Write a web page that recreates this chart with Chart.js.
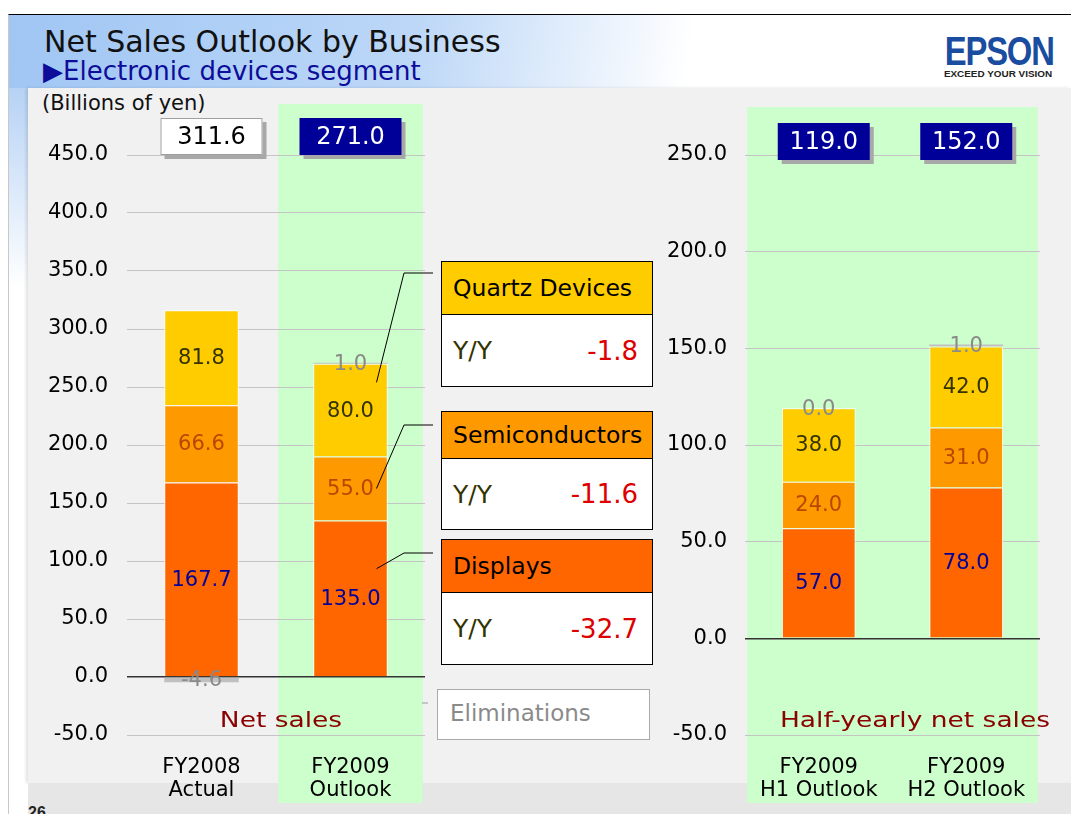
<!DOCTYPE html>
<html>
<head>
<meta charset="utf-8">
<script src="https://cdn.jsdelivr.net/npm/chart.js@4.4.1/dist/chart.umd.min.js"></script>
<style>
  body { margin: 0; width: 1071px; height: 814px; overflow: hidden; background: #fff; position: relative; font-family: "DejaVu Sans", sans-serif; }
  .abs { position: absolute; }
  #frame { left: 8px; top: 14px; width: 1063px; height: 800px; border-top: 1.5px solid #000; border-left: 1px solid #c8c8c8; box-sizing: border-box; }
  #header { left: 9px; top: 15px; width: 1062px; height: 73px; background: linear-gradient(100deg, #a0c6f4 0%, #bcd7f7 38%, #ffffff 64%); }
  #strip { left: 9px; top: 88px; width: 19px; height: 200px; background: linear-gradient(to bottom, #b6d2f5, #ffffff); }
  #panel { left: 28px; top: 88px; width: 1043px; height: 695px; background: #f1f1f1; box-shadow: -2px 0 3px rgba(0,0,0,0.12); }
  #foot { left: 28px; top: 783px; width: 1043px; height: 31px; background: #e6e6e6; }
  #title { left: 44px; top: 27px; font-size: 30px; line-height: 1; color: #111; white-space: nowrap; }
  #subtitle { left: 43px; top: 58px; font-size: 26px; line-height: 1; color: #0d0d99; white-space: nowrap; }
  #unit { left: 42px; top: 93px; font-size: 21px; line-height: 1; color: #111; white-space: nowrap; }
  #logo { left: 940px; top: 34px; width: 120px; text-align: center; }
  #logo .big { font-family: "Liberation Sans", sans-serif; font-weight: bold; font-size: 41px; line-height: 35px; color: #1a4c9f; transform: scaleX(0.8); letter-spacing: -1.5px; margin-left: -8px; }
  #logo .small { font-family: "Liberation Sans", sans-serif; font-weight: bold; font-size: 9px; line-height: 9px; color: #222; transform: scaleX(1.1); white-space: nowrap; margin-top: 1px; margin-left: -4px; }
  canvas { position: absolute; }
  .callout { position: absolute; left: 441px; width: 212px; border: 1.5px solid #000; background: #fff; box-sizing: border-box; z-index: 5; }
  .callout .head { border-bottom: 1.5px solid #000; font-size: 23.5px; padding-left: 11px; box-sizing: border-box; color: #000; display: flex; align-items: center; }
  .callout .body { position: relative; display: flex; align-items: center; justify-content: space-between; padding: 0 14px 0 11px; }
  .callout .yy { font-size: 25px; color: #333300; }
  .callout .val { font-size: 26px; color: #dd0000; }
  #elim { left: 437px; top: 689px; width: 213px; height: 51px; border: 1.5px solid #aaa; background: #fff; box-sizing: border-box; font-size: 23px; color: #8a8a8a; padding-left: 12px; line-height: 47px; z-index: 5; }
  .sect { font-size: 21px; color: #8b0000; line-height: 1; text-align: center; width: 300px; transform: scaleX(1.26); white-space: nowrap; z-index: 5; }
  #pageno { left: 28px; top: 804px; font-family: "Liberation Sans", sans-serif; font-weight: bold; font-size: 16px; color: #222; }
</style>
</head>
<body>
<div id="frame" class="abs"></div>
<div id="header" class="abs"></div>
<div id="strip" class="abs"></div>
<div id="panel" class="abs"></div>
<div id="foot" class="abs"></div>
<div id="title" class="abs">Net Sales Outlook by Business</div>
<div id="subtitle" class="abs">▶Electronic devices segment</div>
<div id="logo" class="abs"><div class="big">EPSON</div><div class="small">EXCEED YOUR VISION</div></div>
<div id="unit" class="abs">(Billions of yen)</div>
<div id="pageno" class="abs">26</div>

<canvas id="net" width="632" height="722" style="left:28px; top:88px;"></canvas>
<canvas id="half" width="411" height="722" style="left:660px; top:88px;"></canvas>

<div id="elim" class="abs">Eliminations</div>
<div class="abs sect" style="left:131px; top:710px;">Net sales</div>
<div class="abs sect" style="left:765px; top:710px;">Half-yearly net sales</div>

<script>
// full-year chart
const netLabels = [['FY2008', 'Actual'], ['FY2009', 'Outlook']];
const netDisplays = [167.7, 135.0];
const netSemis = [66.6, 55.0];
const netQuartz = [81.8, 80.0];
const netElim = [-4.6, 1.0];
const netTotals = [311.6, 271.0];

// half-year chart
const halfLabels = [['FY2009', 'H1 Outlook'], ['FY2009', 'H2 Outlook']];
const halfDisplays = [57.0, 78.0];
const halfSemis = [24.0, 31.0];
const halfQuartz = [38.0, 42.0];
const halfElim = [0.0, 1.0];
const halfTotals = [119.0, 152.0];

// Y/Y change boxes
const segmentNames = ['Quartz Devices', 'Semiconductors', 'Displays'];
const yoyChange = [-1.8, -11.6, -32.7];

const netTicks = { min: -50, max: 450, step: 50 };
const halfTicks = { min: -50, max: 250, step: 50 };

const calloutBoxes = [
  { top: 261, head: 53, body: 71, color: '#ffcc00' },
  { top: 411, head: 47, body: 70, color: '#ff9900' },
  { top: 539, head: 53, body: 71, color: '#ff6600' }
];
segmentNames.forEach(function (name, i) {
  const b = calloutBoxes[i];
  const div = document.createElement('div');
  div.className = 'callout';
  div.style.top = b.top + 'px';
  div.innerHTML = '<div class="head" style="height:' + b.head + 'px;background:' + b.color + '">' + name + '</div>' +
    '<div class="body" style="height:' + b.body + 'px"><span class="yy">Y/Y</span><span class="val">' + yoyChange[i].toFixed(1) + '</span></div>';
  document.body.appendChild(div);
});

const extras = {
  id: 'extras',
  beforeDraw(chart) {
    const o = chart.options.plugins.extras;
    const ctx = chart.ctx;
    const xs = chart.scales.x;
    const half = (xs.getPixelForValue(1) - xs.getPixelForValue(0)) * 0.485;
    const x0 = xs.getPixelForValue(o.band[0]) - half;
    const x1 = xs.getPixelForValue(o.band[1]) + half;
    ctx.save();
    ctx.fillStyle = '#ccffcc';
    ctx.fillRect(x0, o.bandTop, x1 - x0, 715 - o.bandTop);
    ctx.restore();
  },
  afterDatasetsDraw(chart) {
    const ctx = chart.ctx;
    ctx.save();
    ctx.font = '21px "DejaVu Sans"';
    ctx.textAlign = 'center';
    ctx.textBaseline = 'middle';
    chart.data.datasets.forEach(function (ds, i) {
      chart.getDatasetMeta(i).data.forEach(function (el, j) {
        ctx.fillStyle = ds.labelColor;
        ctx.fillText(ds.data[j].toFixed(1), el.x, (el.y + el.base) / 2 + 1);
      });
    });
    ctx.restore();
  },
  afterDraw(chart) {
    const o = chart.options.plugins.extras;
    const ctx = chart.ctx;
    const xs = chart.scales.x;
    const area = chart.chartArea;
    ctx.save();
    // leader lines from the outlook bar to the Y/Y boxes
    if (o.leaders) {
      ctx.strokeStyle = '#000';
      ctx.lineWidth = 1;
      o.leaders.forEach(function (l) {
        const el = chart.getDatasetMeta(l.ds).data[1];
        const sy = el.y + (el.base - el.y) * l.frac;
        ctx.beginPath();
        ctx.moveTo(el.x + 26, sy);
        ctx.lineTo(area.right - 21, l.endY);
        ctx.lineTo(area.right + 8, l.endY);
        ctx.stroke();
      });
      ctx.strokeStyle = '#999';
      ctx.beginPath();
      ctx.moveTo(area.right - 3, 615);
      ctx.lineTo(area.right + 3, 615);
      ctx.stroke();
    }
    // total boxes
    ctx.font = '24px "DejaVu Sans"';
    ctx.textAlign = 'center';
    ctx.textBaseline = 'middle';
    o.totals.forEach(function (t, j) {
      const cx = xs.getPixelForValue(j) + (j === 0 ? o.firstShift : 0);
      const w = o.boxW, h = 37;
      const top = area.top - o.boxRise;
      ctx.fillStyle = '#a8a8a8';
      ctx.fillRect(cx - w / 2 + 4, top + 4, w, h);
      const plain = o.plainFirst && j === 0;
      ctx.fillStyle = plain ? '#ffffff' : '#000099';
      ctx.fillRect(cx - w / 2, top, w, h);
      if (plain) {
        ctx.strokeStyle = '#a0a0a0';
        ctx.lineWidth = 1;
        ctx.strokeRect(cx - w / 2 + 0.5, top + 0.5, w - 1, h - 1);
      }
      ctx.fillStyle = plain ? '#000' : '#fff';
      ctx.fillText(t.toFixed(1), cx, top + h / 2 + 1);
    });
    ctx.restore();
  }
};

function makeDatasets(displays, semis, quartz, elim) {
  return [
    { label: 'Displays', data: displays, backgroundColor: '#ff6600', borderColor: '#ffffff', borderWidth: 1, labelColor: '#000099' },
    { label: 'Semiconductors', data: semis, backgroundColor: '#ff9900', borderColor: '#ffffff', borderWidth: 1, labelColor: '#b84800' },
    { label: 'Quartz Devices', data: quartz, backgroundColor: '#ffcc00', borderColor: '#ffffff', borderWidth: 1, labelColor: '#333300' },
    { label: 'Eliminations', data: elim, backgroundColor: '#c0c0c0', borderWidth: 0, labelColor: '#8a8a8a' }
  ];
}

function makeOptions(range, yWidth, yPad, padRight, extraOpts) {
  return {
    responsive: false,
    animation: false,
    layout: { padding: { top: 67, right: padRight, bottom: 0, left: 0 } },
    datasets: { bar: { categoryPercentage: 1.0, barPercentage: 0.5 } },
    plugins: { legend: { display: false }, tooltip: { enabled: false }, extras: extraOpts },
    scales: {
      x: {
        stacked: true,
        grid: { display: false, drawTicks: false },
        border: { display: false },
        ticks: { color: '#000', font: { family: 'DejaVu Sans', size: 21, lineHeight: 1.05 }, padding: 22, maxRotation: 0 },
        afterFit: function (s) { s.height = 75; }
      },
      y: {
        stacked: true,
        min: range.min,
        max: range.max,
        ticks: {
          stepSize: range.step,
          color: '#000',
          font: { family: 'DejaVu Sans', size: 21 },
          padding: yPad,
          callback: function (v) { return v.toFixed(1); }
        },
        grid: {
          drawTicks: false,
          color: function (c) { return c.tick.value === 0 ? '#333333' : '#c4c4c4'; },
          lineWidth: function (c) { return c.tick.value === 0 ? 1.5 : 1; }
        },
        border: { display: false },
        afterFit: function (s) { s.width = yWidth; }
      }
    }
  };
}

new Chart(document.getElementById('net'), {
  type: 'bar',
  data: { labels: netLabels, datasets: makeDatasets(netDisplays, netSemis, netQuartz, netElim) },
  options: makeOptions(netTicks, 99, 19, 235, {
    band: [1, 1], bandTop: 16, totals: netTotals, plainFirst: true, boxW: 102, boxRise: 37, firstShift: 10,
    leaders: [
      { ds: 2, frac: 0.2, endY: 185 },
      { ds: 1, frac: 0.5, endY: 337 },
      { ds: 0, frac: 0.31, endY: 465 }
    ]
  }),
  plugins: [extras]
});

new Chart(document.getElementById('half'), {
  type: 'bar',
  data: { labels: halfLabels, datasets: makeDatasets(halfDisplays, halfSemis, halfQuartz, halfElim) },
  options: makeOptions(halfTicks, 85, 18, 31, {
    band: [0, 1], bandTop: 19, totals: halfTotals, plainFirst: false, boxW: 92, boxRise: 32, firstShift: 5
  }),
  plugins: [extras]
});
</script>
</body>
</html>
